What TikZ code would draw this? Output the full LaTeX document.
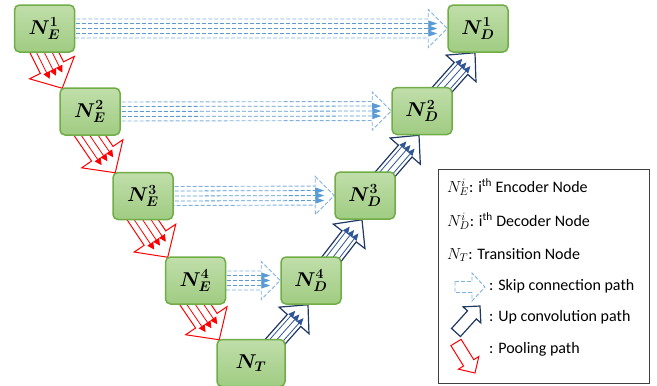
\RequirePackage{fix-cm}
\documentclass[tikz,border=0pt]{standalone}
\usepackage{fontspec}
\setmainfont{Carlito}
\usepackage{bm}
\usetikzlibrary{calc,arrows.meta,backgrounds}
\definecolor{nodetop}{RGB}{192,222,170}
\definecolor{nodebot}{RGB}{160,204,130}
\definecolor{nodeborder}{HTML}{70AD47}
\definecolor{navy}{HTML}{1F3864}
\definecolor{upblue}{HTML}{2F5597}
\definecolor{skipout}{HTML}{7FB0E0}
\definecolor{skipin}{HTML}{5B9BD5}
\newcommand{\barrow}[6]{%
  \coordinate (ba) at ($(#2)!#5pt!(#1)$);
  \draw[#6] ($(#1)!#3pt!90:(#2)$) -- ($(ba)!#3pt!90:(#2)$) -- ($(ba)!#4pt!90:(#2)$) -- (#2)
    -- ($(ba)!#4pt!-90:(#2)$) -- ($(ba)!#3pt!-90:(#2)$) -- ($(#1)!#3pt!-90:(#2)$) -- cycle;
}
\newcommand{\binner}[5]{%
  \coordinate (be) at ($(#2)!#3pt!(#1)$);
  \foreach \o/\a in {#4} {\draw[#5] ($(#1)!\o pt!\a:(#2)$) -- ($(be)!\o pt!\a:(#2)$);}
}
\tikzset{
  nn/.style={draw=nodeborder, line width=1.5pt, rounded corners=5pt,
    top color=nodetop, bottom color=nodebot, minimum width=60pt, minimum height=47pt,
    inner sep=0pt, font=\fontsize{20}{24}\selectfont},
  pool/.style={draw=red, line width=1pt, fill=white, line join=miter},
  poolin/.style={draw=red, line width=0.8pt, -{Triangle[length=7pt,width=7pt]}},
  upo/.style={draw=navy, line width=1.2pt, fill=white, line join=miter},
  upin/.style={draw=upblue, line width=0.8pt, -{Triangle[length=7pt,width=6pt]}},
  skipo/.style={draw=skipout, dash pattern=on 4pt off 2pt, line width=0.9pt, fill=white},
  skipl/.style={draw=skipin, dash pattern=on 4pt off 2pt, line width=0.8pt, -{Triangle[length=9pt,width=6pt]}},
  legtext/.style={anchor=base west, inner sep=0pt, font=\fontsize{16}{19}\selectfont},
}
\begin{document}
\begin{tikzpicture}[x=1pt,y=-1pt]
\useasboundingbox (0,0) rectangle (657,386);
% nodes
\node[nn] (E1) at (44.5,28.5) {$\bm{N_E^1}$};
\node[nn] (E2) at (90,111.5) {$\bm{N_E^2}$};
\node[nn] (E3) at (143,196) {$\bm{N_E^3}$};
\node[nn] (E4) at (195.5,280.5) {$\bm{N_E^4}$};
\node[nn, minimum width=68pt] (T) at (251,363) {$\bm{N_T}$};
\node[nn] (D4) at (311,280.5) {$\bm{N_D^4}$};
\node[nn] (D3) at (365,195.5) {$\bm{N_D^3}$};
\node[nn] (D2) at (422,111) {$\bm{N_D^2}$};
\node[nn] (D1) at (478,28.5) {$\bm{N_D^1}$};
\begin{pgfonlayer}{background}
% pooling arrows
\foreach \a/\b in {E1/E2,E2/E3,E3/E4,E4/T} {
  \coordinate (pt) at ($(\b.north west)+(3,1)$);
  \coordinate (ps) at ($(\a.south)!-12pt!(pt)$);
  \barrow{ps}{pt}{13}{25}{23}{pool}
  \binner{ps}{pt}{14}{7/90,0/90,7/-90}{poolin}
}
% up convolution arrows
\foreach \a/\b in {T/D4,D4/D3,D3/D2,D2/D1} {
  \coordinate (ut) at ($(\b.south)+(-3,0)$);
  \coordinate (us0) at ($(\a.north east)+(-8,0)$);
  \coordinate (us) at ($(us0)!-12pt!(ut)$);
  \barrow{us}{ut}{9}{20}{21}{upo}
  \binner{us}{ut}{13}{5.5/90,0/90,5.5/-90}{upin}
}
% skip connections
\foreach \i in {1,2,3,4} {
  \coordinate (st) at (D\i.west);
  \coordinate (ss) at ($(E\i.east)+(-5,0)$);
  \barrow{ss}{st}{9.5}{19}{19}{skipo}
  \binner{ss}{st}{10}{5/90,0/90,5/-90}{skipl}
}
\end{pgfonlayer}
% legend
\node[draw=black!75, line width=0.8pt, minimum width=211pt, minimum height=214pt, inner sep=0pt] (legend) at (543.5,276) {};
\node[legtext] (l1) at (447,192) {$N_E^i$: i\textsuperscript{th} Encoder Node};
\node[legtext] (l2) at (447,226) {$N_D^i$: i\textsuperscript{th} Decoder Node};
\node[legtext] (l3) at (447,259) {$N_T$: Transition Node};
\node[legtext] (l4) at (489,290) {: Skip connection path};
\node[legtext] (l5) at (489,321) {: Up convolution path};
\node[legtext] (l6) at (489,353) {: Pooling path};
\coordinate (k1s) at (455,287);
\coordinate (k1t) at (485,287);
\barrow{k1s}{k1t}{5.5}{14}{13}{skipo}
\coordinate (k2s) at (456,332.5);
\coordinate (k2t) at (480,306);
\barrow{k2s}{k2t}{6}{12}{12}{upo}
\coordinate (k3s) at (456,342.5);
\coordinate (k3t) at (475,373);
\barrow{k3s}{k3t}{6}{12}{12}{pool}
\end{tikzpicture}
\end{document}
